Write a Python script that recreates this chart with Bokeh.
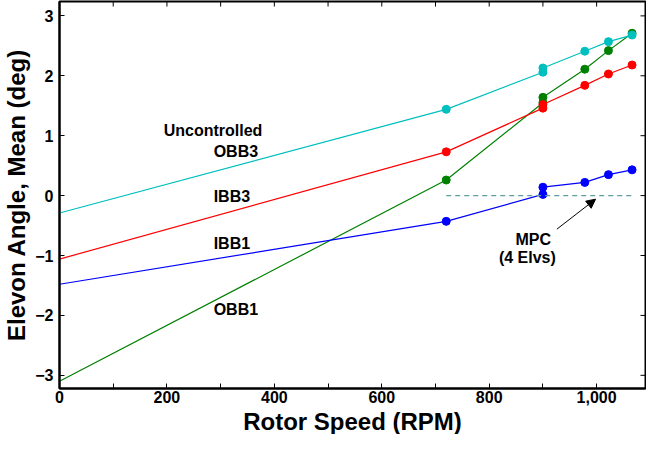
import math
from bokeh.plotting import figure
from bokeh.models import Range1d, Arrow, NormalHead, FixedTicker, Title
from bokeh.embed import file_html
from bokeh.resources import INLINE
from bokeh.core.properties import value

# ---- data ----
rpm = [0, 720, 900, 900, 978, 1022, 1066]
obb3 = [-0.29, 1.44, 2.06, 2.13, 2.41, 2.57, 2.68]
ibb3 = [-1.06, 0.73, 1.46, 1.52, 1.84, 2.03, 2.18]
obb1 = [-3.10, 0.26, 1.55, 1.64, 2.11, 2.42, 2.71]
ibb1 = [-1.48, -0.43, 0.02, 0.14, 0.22, 0.35, 0.43]

mpc_x = [720, 1066]
mpc_y = [0, 0]

x_ticks = [0, 200, 400, 600, 800, 1000]
x_minor = [100, 300, 500, 700, 900, 1100]
x_tick_labels = ["0", "200", "400", "600", "800", "1,000"]
y_ticks = [-3, -2, -1, 0, 1, 2, 3]
y_tick_labels = ["\u22123", "\u22122", "\u22121", "0", "1", "2", "3"]

label_text = ["Uncontrolled", "OBB3", "IBB3", "IBB1", "OBB1"]
label_x = [194, 287, 287, 287, 287]
label_y = [1.09, 0.73, -0.02, -0.80, -1.90]

mpc_text = ["MPC", "(4 Elvs)"]
mpc_text_x = [882, 871]
mpc_text_y = [-0.73, -1.03]
arrow_tail = (926, -0.56)
arrow_head = (998, -0.06)

X_START, X_END = 0, 1091
Y_START, Y_END = -3.22, 3.24

FONT = "Liberation Sans"

p = figure(frame_width=586, height=434, output_backend="svg", toolbar_location=None,
           x_range=Range1d(X_START, X_END), y_range=Range1d(Y_START, Y_END),
           min_border_top=1, min_border_right=1, min_border_left=0, min_border_bottom=0)
p.background_fill_color = "white"
p.border_fill_color = "white"
p.xgrid.visible = False
p.ygrid.visible = False
p.outline_line_color = "black"
p.outline_line_width = 2

xt = FixedTicker(ticks=x_ticks, minor_ticks=x_minor)
yt = FixedTicker(ticks=y_ticks)

for ax, ticker, labels in ((p.xaxis[0], xt, x_tick_labels), (p.yaxis[0], yt, y_tick_labels)):
    ax.ticker = ticker
    ax.axis_line_width = 2
    ax.axis_line_color = "black"
    ax.major_tick_in = 5
    ax.major_tick_out = 0
    ax.minor_tick_in = 5
    ax.minor_tick_out = 0
    ax.major_tick_line_width = 1
    ax.minor_tick_line_width = 1
    ax.major_label_overrides = {t: l for t, l in zip(ticker.ticks, labels)}
    ax.major_label_text_font = FONT
    ax.major_label_text_font_style = "bold"
    ax.major_label_text_font_size = "16px"
    ax.major_label_text_color = "black"
    ax.axis_label_text_font = FONT
    ax.axis_label_text_font_style = "bold"
    ax.axis_label_text_font_size = "24px"
    ax.axis_label_text_color = "black"

p.yaxis[0].minor_tick_in = 0
p.xaxis[0].major_label_standoff = 2
p.yaxis[0].major_label_standoff = 6
p.yaxis[0].axis_label_standoff = 2
p.yaxis.axis_label = "Elevon Angle, Mean (deg)"

p.add_layout(Title(text="Rotor Speed (RPM)", align="center", text_font=FONT,
                   text_font_style="bold", text_font_size="24px", text_color="black",
                   standoff=0, offset=0), "below")

# mirrored tick marks on top and right edges (half of each dash is clipped by the frame)
top_ticks = sorted(x_ticks + x_minor)
p.scatter(top_ticks, [Y_END] * len(top_ticks), marker="dash", angle=math.pi / 2, size=10,
          line_color="black", line_width=1)
p.scatter([X_END] * len(y_ticks), y_ticks, marker="dash", size=10,
          line_color="black", line_width=1)

# ---- series ----
series = [(obb1, "#008000"), (ibb1, "#0000ff"), (ibb3, "#ff0000"), (obb3, "#00bfbf")]
for ys, c in series:
    p.line(rpm, ys, line_color=c, line_width=1.2)
    p.scatter(rpm[1:], ys[1:], size=8, fill_color=c, line_color=c)

p.line(mpc_x, mpc_y, line_color="#5f9ea0", line_width=1.2, line_dash="5 4")

p.add_layout(Arrow(end=NormalHead(size=9, fill_color="black", line_color="black", line_width=1),
                   x_start=arrow_tail[0], y_start=arrow_tail[1],
                   x_end=arrow_head[0], y_end=arrow_head[1],
                   line_color="black", line_width=1))

p.text(label_x, label_y, text=label_text, text_font=value(FONT), text_font_style="bold",
       text_font_size="16px", text_align="left", text_baseline="middle", text_color="black")
p.text(mpc_text_x, mpc_text_y, text=mpc_text, text_font=value(FONT), text_font_style="bold",
       text_font_size="16px", text_align="center", text_baseline="middle", text_color="black")

open("out.html", "w").write(file_html(p, INLINE))
